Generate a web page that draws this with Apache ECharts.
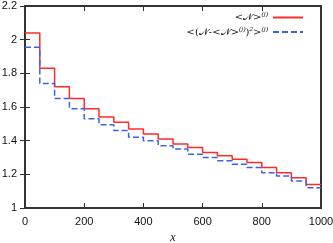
<!DOCTYPE html>
<html><head><meta charset="utf-8">
<script src="https://cdn.jsdelivr.net/npm/echarts@6/dist/echarts.min.js"></script>
<style>html,body{margin:0;padding:0;background:#fff}#c{width:333px;height:243px}</style>
</head><body><div id="c"></div>
<script>
const binEdges = [0,50,100,150,200,250,300,350,400,450,500,550,600,650,700,750,800,850,900,950,1000];
const meanN = [2.04,1.83,1.72,1.65,1.59,1.54,1.51,1.47,1.44,1.41,1.38,1.36,1.33,1.31,1.29,1.27,1.24,1.21,1.18,1.14];
const varN  = [1.955,1.74,1.65,1.59,1.53,1.495,1.46,1.42,1.40,1.37,1.35,1.32,1.30,1.28,1.26,1.24,1.21,1.19,1.16,1.12];
const xTicks = [0,200,400,600,800,1000];
const yTicks = [1,1.2,1.4,1.6,1.8,2,2.2];
const name1 = 'mean';
const name2 = 'var';
function stepData(vals){
  const d = vals.map((v,i)=>[binEdges[i], v]);
  d.push([binEdges[binEdges.length-1], vals[vals.length-1]]);
  return d;
}
const K = '#111111';
const F = '#333333';
const chart = echarts.init(document.getElementById('c'));
const mkLine = () => ({show:true, lineStyle:{color:F, width:2}});
const mkTick = () => ({show:true, inside:true, lineStyle:{color:F}});
const mkSplit = () => ({lineStyle:{color:'rgba(255,255,255,0)', opacity:0}});
const lblFont = {color:K, fontSize:11, fontFamily:'Liberation Sans, Arial, sans-serif'};
const serif = 'DejaVu Serif, Liberation Serif, serif';
chart.setOption({
  animation:false,
  grid:{left:25, right:12, top:6, bottom:35, outerBoundsMode:'none', containLabel:false, show:true, borderColor:F, borderWidth:2},
  legend:{
    show:true, orient:'vertical', right:24, top:6, align:'right', itemWidth:30, itemHeight:10, itemGap:3,
    itemStyle:{opacity:0},
    formatter:function(n){
      if(n===name1) return '{t|<𝒩>}{s|(j)}';
      return '{t|<(𝒩-<𝒩>}{s|(j)}{t|)}{s|2}{t|>}{s|(j)}';
    },
    textStyle:{color:K, rich:{
      t:{fontFamily:serif, fontSize:10, color:K},
      s:{fontFamily:'Liberation Serif, serif', fontStyle:'italic', fontSize:7, color:K, verticalAlign:'bottom', padding:[0,0,6,0]}
    }},
    data:[name1, name2]
  },
  xAxis:[
    {type:'value', min:0, max:1000, interval:200, axisLine:mkLine(), axisTick:mkTick(), splitLine:mkSplit(),
     axisLabel:Object.assign({formatter:v=>xTicks.includes(v)?String(v):''}, lblFont),
     name:'x', nameLocation:'middle', nameGap:18, nameTextStyle:{fontFamily:'Liberation Serif, serif', fontStyle:'italic', fontSize:12, color:K}},
    {type:'value', min:0, max:1000, interval:200, position:'top', axisLine:mkLine(), axisTick:mkTick(), axisLabel:{show:false}, splitLine:mkSplit()}
  ],
  yAxis:[
    {type:'value', min:1, max:2.2, interval:0.2, axisLine:mkLine(), axisTick:mkTick(), splitLine:mkSplit(),
     axisLabel:Object.assign({formatter:v=>{const t=yTicks.find(y=>Math.abs(y-v)<1e-6); return t===undefined?'':String(t);}}, lblFont)},
    {type:'value', min:1, max:2.2, interval:0.2, position:'right', axisLine:mkLine(), axisTick:mkTick(), axisLabel:{show:false}, splitLine:mkSplit()}
  ],
  series:[
    {name:name1, type:'line', step:'end', data:stepData(meanN), symbol:'none', lineStyle:{color:'#ff2a2a', width:1.5}, itemStyle:{color:'#ff2a2a'}},
    {name:name2, type:'line', step:'end', data:stepData(varN), symbol:'none', lineStyle:{color:'#3a62ee', width:1.5, type:[6,3]}, itemStyle:{color:'#3a62ee'}}
  ]
});
</script></body></html>
